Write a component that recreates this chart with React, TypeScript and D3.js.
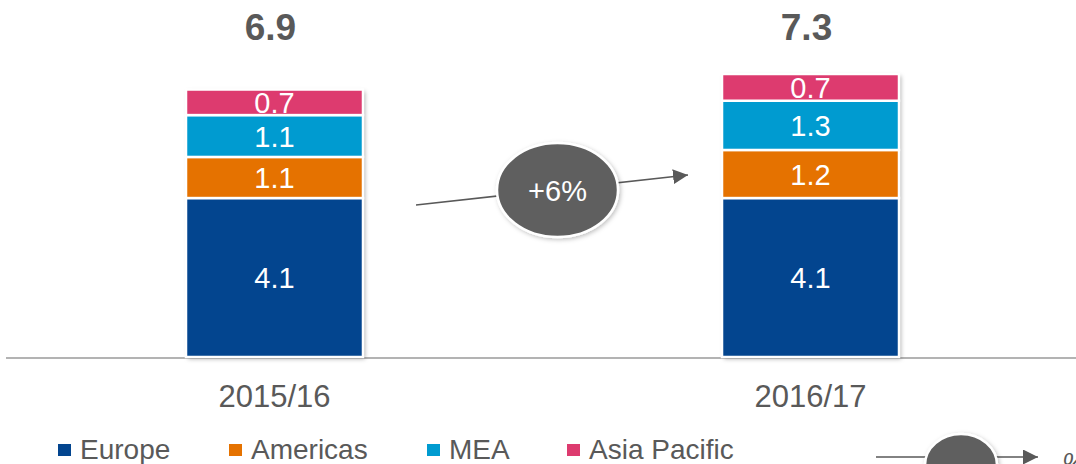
import React from "react";
import * as d3 from "d3";

const categories = ["2015/16", "2016/17"];
const seriesNames = ["Europe", "Americas", "MEA", "Asia Pacific"];
const europe = [4.1, 4.1];
const americas = [1.06, 1.24];
const mea = [1.08, 1.27];
const asiaPacific = [0.66, 0.69];
const totals = ["6.9", "7.3"];
const growthLabel = "+6%";
const colors = ["#03458F", "#E57200", "#009BD0", "#DD3B6F"];

const W = 1076;
const H = 464;
const FONT = "'Liberation Sans', Arial, sans-serif";
const GRAY = "#595959";

export default function App() {
  const table = categories.map((c, i) => ({
    cat: c,
    Europe: europe[i],
    Americas: americas[i],
    MEA: mea[i],
    "Asia Pacific": asiaPacific[i],
  }));
  const stack = d3.stack<any>().keys(seriesNames)(table);

  const x = d3.scaleBand().domain(categories).range([186, 899]).paddingInner(0.6698);
  const y = d3.scaleLinear().domain([0, 7.3]).range([357, 74]);
  const fmt = d3.format(".1f");
  const bw = x.bandwidth();

  const legendX = [58, 229, 427, 567];

  return (
    <svg
      width={W}
      height={H}
      style={{ position: "absolute", left: 0, top: 0, background: "#fff" }}
      fontFamily={FONT}
    >
      <defs>
        <filter id="shadow" x="-10%" y="-10%" width="125%" height="125%">
          <feDropShadow dx="2" dy="2" stdDeviation="2" floodColor="#000" floodOpacity="0.3" />
        </filter>
        <filter id="eshadow" x="-20%" y="-20%" width="140%" height="140%">
          <feDropShadow dx="1.5" dy="1.5" stdDeviation="2" floodColor="#000" floodOpacity="0.25" />
        </filter>
        <marker id="arrow" viewBox="0 0 10 10" refX="10" refY="5" markerWidth="15" markerHeight="15" markerUnits="userSpaceOnUse" orient="auto">
          <path d="M0,0 L10,5 L0,10 Z" fill={GRAY} />
        </marker>
      </defs>

      {/* axis line */}
      <line x1={6} x2={W} y1={358} y2={358} stroke="#9a9a9a" strokeWidth={1.6} />

      {/* bars */}
      {categories.map((c, i) => {
        const x0 = x(c)!;
        const top = y(stack[stack.length - 1][i][1]);
        return (
          <g key={c}>
            <rect x={x0} y={top} width={bw} height={y(0) - top} fill="#fff" filter="url(#shadow)" />
            {stack.map((s, k) => {
              const d = s[i];
              const y1 = y(d[1]);
              const y0 = y(d[0]);
              return (
                <g key={s.key}>
                  <rect x={x0} y={y1} width={bw} height={y0 - y1} fill={colors[k]} stroke="#fff" strokeWidth={2.5} />
                  <text
                    x={x0 + bw / 2}
                    y={(y0 + y1) / 2 + 10.5}
                    textAnchor="middle"
                    fill="#fff"
                    fontSize={29}
                  >
                    {fmt(d[1] - d[0])}
                  </text>
                </g>
              );
            })}
            <text x={x0 + bw / 2 - 4} y={40} textAnchor="middle" fill={GRAY} fontSize={37} fontWeight="bold">
              {totals[i]}
            </text>
            <text x={x0 + bw / 2} y={407} textAnchor="middle" fill={GRAY} fontSize={31}>
              {c}
            </text>
          </g>
        );
      })}

      {/* growth arrow */}
      <line x1={416} y1={205} x2={688} y2={175} stroke={GRAY} strokeWidth={1.6} markerEnd="url(#arrow)" />
      <ellipse cx={557.5} cy={190} rx={60.5} ry={47} fill="#5f5f5f" stroke="#fff" strokeWidth={2.5} filter="url(#eshadow)" />
      <text x={557.5} y={200.5} textAnchor="middle" fill="#fff" fontSize={29}>
        {growthLabel}
      </text>

      {/* legend */}
      {seriesNames.map((n, k) => (
        <g key={n}>
          <rect x={legendX[k]} y={444} width={13} height={12} fill={colors[k]} />
          <text x={legendX[k] + 22} y={459} fill={GRAY} fontSize={28}>
            {n}
          </text>
        </g>
      ))}

      {/* bottom-right key */}
      <line x1={876} y1={457} x2={1038} y2={457} stroke={GRAY} strokeWidth={1.6} markerEnd="url(#arrow)" />
      <ellipse cx={961} cy={465} rx={36} ry={31} fill="#5f5f5f" stroke="#fff" strokeWidth={2.5} filter="url(#eshadow)" />
      <text x={1062} y={472} fill={GRAY} fontSize={28} fontStyle="italic">
        %
      </text>
    </svg>
  );
}
